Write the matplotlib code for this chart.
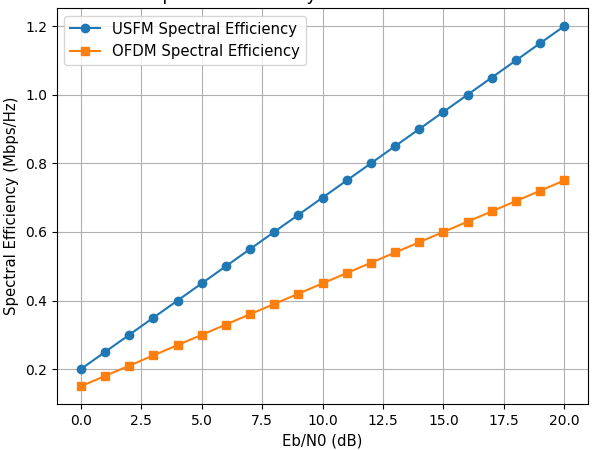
import numpy as np
import matplotlib
matplotlib.use("Agg")
import matplotlib.pyplot as plt


# DATA
ebn0_db = [0, 1, 2, 3, 4, 5, 6, 7, 8, 9, 10, 11, 12, 13, 14, 15, 16, 17, 18, 19, 20]

usfm_se = [0.20, 0.25, 0.30, 0.35, 0.40, 0.45, 0.50, 0.55, 0.60, 0.65, 0.70,
           0.75, 0.80, 0.85, 0.90, 0.95, 1.00, 1.05, 1.10, 1.15, 1.20]

ofdm_se = [0.15, 0.18, 0.21, 0.24, 0.27, 0.30, 0.33, 0.36, 0.39, 0.42, 0.45,
           0.48, 0.51, 0.54, 0.57, 0.60, 0.63, 0.66, 0.69, 0.72, 0.75]


# FIGURE
fig, ax = plt.subplots(figsize=(5.92, 4.5), dpi=100)
fig.subplots_adjust(left=0.0958, right=0.994, bottom=0.1016, top=0.982)

ax.plot(ebn0_db, usfm_se, marker='o', label='USFM Spectral Efficiency')
ax.plot(ebn0_db, ofdm_se, marker='s', label='OFDM Spectral Efficiency')

# title sits above the top edge, only its descenders show (as in the reference)
ax.set_title("Spectral Efficiency of USFM and OFDM", fontsize=12.84)
ax.set_xlabel("Eb/N0 (dB)", fontsize=10.75)
ax.set_ylabel("Spectral Efficiency (Mbps/Hz)", fontsize=10.75)

ax.legend(fontsize=10.75)
ax.grid(True)

fig.savefig("out.png", dpi=100)
